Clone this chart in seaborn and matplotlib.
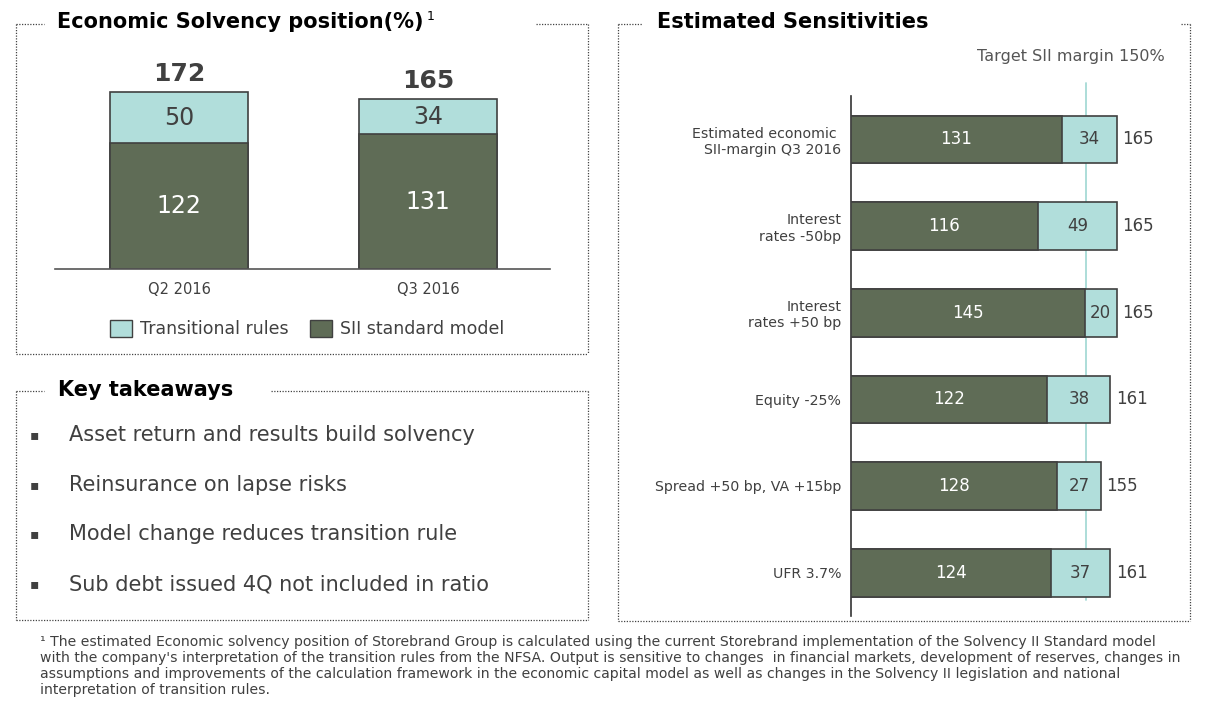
import matplotlib
matplotlib.use("Agg")
import matplotlib.pyplot as plt
import seaborn as sns
from matplotlib.lines import Line2D
from matplotlib.patches import Patch

# ---------------- data ----------------
periods = ["Q2 2016", "Q3 2016"]
sii_standard = [122, 131]
transitional = [50, 34]
solvency_total = [172, 165]

scenarios = ["Estimated economic \nSII-margin Q3 2016", "Interest\nrates -50bp",
             "Interest\nrates +50 bp", "Equity -25%", "Spread +50 bp, VA +15bp", "UFR 3.7%"]
sens_sii = [131, 116, 145, 122, 128, 124]
sens_trans = [34, 49, 20, 38, 27, 37]
sens_total = [165, 165, 165, 161, 155, 161]
target_line_pos = 146   # where the target line is drawn in the picture
target_label = "Target SII margin 150%"

takeaways = ["Asset return and results build solvency",
             "Reinsurance on lapse risks",
             "Model change reduces transition rule",
             "Sub debt issued 4Q not included in ratio"]

footnote = ("\u00b9 The estimated Economic solvency position of Storebrand Group is calculated using the current Storebrand implementation of the Solvency II Standard model\n"
            "with the company's interpretation of the transition rules from the NFSA. Output is sensitive to changes  in financial markets, development of reserves, changes in\n"
            "assumptions and improvements of the calculation framework in the economic capital model as well as changes in the Solvency II legislation and national\n"
            "interpretation of transition rules.")

# ---------------- style ----------------
sns.set_theme(style="white")
plt.rcParams['font.family'] = ['DejaVu Sans']

DARK = "#5f6c56"
LIGHT = "#b1dedb"
EDGE = "#404040"
TXT = "#404040"

W, H = 1212, 702
fig = plt.figure(figsize=(W / 100, H / 100), dpi=100)

def fx(px):
    return px / W

def fy(py):
    return 1 - py / H

# ---------------- left chart ----------------
axL = fig.add_axes([fx(55), fy(269), fx(550) - fx(55), fy(60) - fy(269)])
sns.barplot(x=periods, y=solvency_total, color=LIGHT, saturation=1, width=0.554,
            edgecolor=EDGE, linewidth=1.2, ax=axL)
sns.barplot(x=periods, y=sii_standard, color=DARK, saturation=1, width=0.554,
            edgecolor=EDGE, linewidth=1.2, ax=axL)
axL.set_xlim(-0.5, 1.49)
axL.set_ylim(0, 203)
for s in ["top", "right", "left"]:
    axL.spines[s].set_visible(False)
axL.spines["bottom"].set_color("#555555")
axL.spines["bottom"].set_linewidth(1.2)
axL.set_yticks([])
axL.set_xlabel("")
axL.set_ylabel("")
axL.tick_params(axis="x", length=0, pad=9, labelsize=10.5, labelcolor=TXT)
for i in range(len(periods)):
    axL.text(i, sii_standard[i] / 2, str(sii_standard[i]), ha="center", va="center",
             color="white", fontsize=17)
    axL.text(i, sii_standard[i] + transitional[i] / 2, str(transitional[i]), ha="center",
             va="center", color=TXT, fontsize=17)
    axL.annotate(str(solvency_total[i]), (i, solvency_total[i]), xytext=(0, 13),
                 textcoords="offset points", ha="center", va="center",
                 fontsize=18, fontweight="bold", color=TXT)

handles = [Patch(facecolor=LIGHT, edgecolor=EDGE, label="Transitional rules"),
           Patch(facecolor=DARK, edgecolor=EDGE, label="SII standard model")]
fig.legend(handles=handles, loc="center", bbox_to_anchor=(fx(307), fy(329)), ncol=2,
           frameon=False, fontsize=12.5, handlelength=1.3, handleheight=1.1,
           handletextpad=0.45, columnspacing=1.2, labelcolor=TXT)

# ---------------- right chart ----------------
axR = fig.add_axes([fx(851), fy(616), fx(1190) - fx(851), fy(96) - fy(616)])
axR.plot([target_line_pos, target_line_pos], [-0.645, 5.31], color="#a6dad6",
         lw=1.3, clip_on=False, zorder=0)
sns.barplot(x=sens_total, y=scenarios, orient="h", color=LIGHT, saturation=1, width=0.55,
            edgecolor=EDGE, linewidth=1.2, ax=axR, zorder=2)
sns.barplot(x=sens_sii, y=scenarios, orient="h", color=DARK, saturation=1, width=0.55,
            edgecolor=EDGE, linewidth=1.2, ax=axR, zorder=3)
axR.set_xlim(0, 210.5)
axR.set_ylim(5.5, -0.5)
for s in ["top", "right", "bottom"]:
    axR.spines[s].set_visible(False)
axR.spines["left"].set_color("#333333")
axR.spines["left"].set_linewidth(1.2)
axR.set_xticks([])
axR.set_xlabel("")
axR.set_ylabel("")
axR.tick_params(axis="y", length=0, pad=7, labelsize=10.2, labelcolor=TXT)
for lab in axR.get_yticklabels():
    lab.set_horizontalalignment("right")
    lab.set_multialignment("right")
for i in range(len(scenarios)):
    axR.text(sens_sii[i] / 2, i, str(sens_sii[i]), ha="center", va="center",
             color="white", fontsize=12, zorder=5)
    axR.text(sens_sii[i] + (sens_total[i] - sens_sii[i]) / 2, i, str(sens_trans[i]),
             ha="center", va="center", color=TXT, fontsize=12, zorder=5)
    axR.annotate(str(sens_total[i]), (sens_total[i], i), xytext=(4, 0),
                 textcoords="offset points", ha="left", va="center",
                 fontsize=12, color=TXT)

fig.text(fx(1165), fy(57), target_label, ha="right", va="center", fontsize=11.5,
         color="#555555")

# ---------------- titles ----------------
t1 = fig.text(fx(57), fy(22), "Economic Solvency position(%)", ha="left", va="center",
              fontsize=15, fontweight="bold", color="black")
axL.annotate("1", xy=(1, 0.75), xycoords=t1, xytext=(2, 0), textcoords="offset points",
             ha="left", va="center", fontsize=9, color="black", annotation_clip=False)
fig.text(fx(657), fy(22), "Estimated Sensitivities", ha="left", va="center",
         fontsize=15, fontweight="bold", color="black")
fig.text(fx(58), fy(390), "Key takeaways", ha="left", va="center",
         fontsize=15, fontweight="bold", color="black")

# ---------------- takeaways ----------------
for k, t in enumerate(takeaways):
    yy = 435 + k * 49.7
    fig.text(fx(34), fy(yy), "\u25aa", ha="center", va="center", fontsize=10, color=TXT)
    fig.text(fx(69), fy(yy), t, ha="left", va="center", fontsize=15, color=TXT)

# ---------------- dotted boxes ----------------
def seg(x0, y0, x1, y1):
    fig.add_artist(Line2D([fx(x0), fx(x1)], [fy(y0), fy(y1)], transform=fig.transFigure,
                          linestyle=(0, (1, 1.2)), linewidth=0.9, color="#444444"))

def box(x0, y0, x1, y1, gap0, gap1):
    seg(x0, y0, gap0, y0)
    seg(gap1, y0, x1, y0)
    seg(x0, y0, x0, y1)
    seg(x1, y0, x1, y1)
    seg(x0, y1, x1, y1)

box(16, 24, 588, 354, 44, 536)
box(16, 391, 588, 620, 44, 271)
box(618, 24, 1190, 621, 642, 1181)

# ---------------- footnote ----------------
fig.text(fx(40), fy(635), footnote, ha="left", va="top", fontsize=10.1, color=TXT,
         linespacing=1.17)

fig.savefig("out.png", dpi=100)
